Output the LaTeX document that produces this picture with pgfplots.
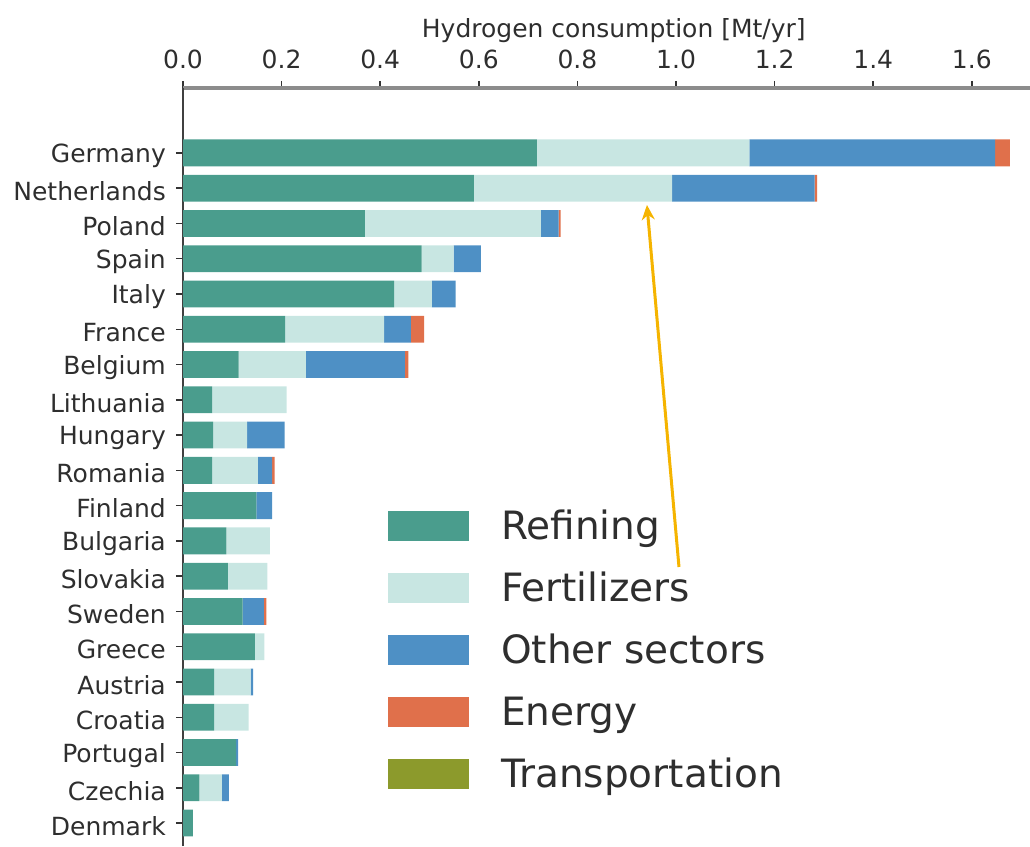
\documentclass[border=0pt]{standalone}
\usepackage{pgfplots}
\pgfplotsset{compat=1.18}
\usepackage{pgfplotstable}
\usepackage{fontspec}
\setmainfont{DejaVu Sans}
\usetikzlibrary{arrows.meta}

\definecolor{refin}{HTML}{4A9D8D}
\definecolor{fert}{HTML}{C8E6E2}
\definecolor{other}{HTML}{4E90C5}
\definecolor{energy}{HTML}{E0704B}
\definecolor{transp}{HTML}{8C9A2C}
\definecolor{arrowc}{HTML}{F5B400}
\definecolor{txt}{HTML}{2E2E2E}

% idx: Germany at the top (19), Denmark at the bottom (0)
\pgfplotstableread{
idx ref   fert  oth   ene   tra
19  0.718 0.431 0.498 0.030 0
18  0.590 0.402 0.289 0.005 0
17  0.369 0.357 0.036 0.004 0
16  0.484 0.065 0.055 0     0
15  0.428 0.077 0.048 0     0
14  0.207 0.201 0.054 0.027 0
13  0.113 0.136 0.201 0.007 0
12  0.059 0.151 0     0     0
11  0.061 0.069 0.076 0     0
10  0.059 0.093 0.029 0.005 0
9   0.149 0     0.032 0     0
8   0.088 0.088 0     0     0
7   0.091 0.080 0     0     0
6   0.121 0     0.043 0.005 0
5   0.146 0.019 0     0     0
4   0.063 0.074 0.005 0     0
3   0.063 0.070 0     0     0
2   0.108 0     0.004 0     0
1   0.033 0.046 0.014 0     0
0   0.020 0     0     0     0
}\hdata

\begin{document}
\begin{tikzpicture}
\useasboundingbox (0,0) rectangle (1030pt,846pt);
\clip (0,0) rectangle (1030pt,846pt);
\begin{axis}[
  at={(183pt,0pt)}, anchor=south west,
  scale only axis, width=848pt, height=758pt,
  xbar stacked, bar width=0.76,
  xmin=0, xmax=1.72, ymin=-0.65, ymax=20.84,
  axis x line*=top, axis y line*=left,
  x axis line style={-, draw=black!45, line width=4pt},
  y axis line style={-, draw=black!75, line width=2.5pt},
  tick align=outside, major tick length=7pt,
  tick style={black!80, line width=1.5pt},
  xtick={0,0.2,...,1.6},
  /pgf/number format/fixed, /pgf/number format/fixed zerofill,
  /pgf/number format/precision=1, /pgf/number format/assume math mode=true,
  xticklabel style={font=\fontsize{25}{30}\selectfont, text=txt, inner sep=0pt, yshift=12pt},
  ytick={0,...,19},
  yticklabels={Denmark,Czechia,Portugal,Croatia,Austria,Greece,Sweden,Slovakia,Bulgaria,Finland,
    Romania,Hungary,Lithuania,Belgium,France,Italy,Spain,Poland,Netherlands,Germany},
  yticklabel style={font=\fontsize{25}{30}\selectfont, text=txt, inner sep=0pt, xshift=-10pt, yshift=-3pt},
  xlabel={Hydrogen consumption [Mt/yr]},
  xlabel style={at={(axis description cs:0.508,1)}, anchor=base, yshift=50pt,
    inner sep=0pt, font=\fontsize{25}{30}\selectfont, text=txt},
  legend cell align=left,
  legend style={draw=none, fill=none, inner sep=0pt, outer sep=0pt,
    at={(axis cs:0.416,8.88)}, anchor=north west,
    font=\fontsize{39}{39}\selectfont, text=txt,
    row sep=24pt, column sep=32pt,
    nodes={inner sep=0pt, text height=30pt, text depth=8pt, anchor=base west}},
  every axis plot/.append style={draw=none},
]
\addplot[fill=refin, legend image code/.code={\fill[refin] (0pt,-1pt) rectangle (81pt,29pt);}]
  table[x=ref, y=idx] {\hdata};
\addplot[fill=fert, legend image code/.code={\fill[fert] (0pt,-1pt) rectangle (81pt,29pt);}]
  table[x=fert, y=idx] {\hdata};
\addplot[fill=other, legend image code/.code={\fill[other] (0pt,-1pt) rectangle (81pt,29pt);}]
  table[x=oth, y=idx] {\hdata};
\addplot[fill=energy, legend image code/.code={\fill[energy] (0pt,-1pt) rectangle (81pt,29pt);}]
  table[x=ene, y=idx] {\hdata};
\addplot[fill=transp, legend image code/.code={\fill[transp] (0pt,-1pt) rectangle (81pt,29pt);}]
  table[x=tra, y=idx] {\hdata};
\legend{Refining,Fertilizers,Other sectors,Energy,Transportation}
\draw[arrowc, line width=3pt, -{Stealth[length=15pt,width=13pt]}]
  (axis cs:1.006,7.26) -- (axis cs:0.941,17.525);
\end{axis}
\end{tikzpicture}
\end{document}
